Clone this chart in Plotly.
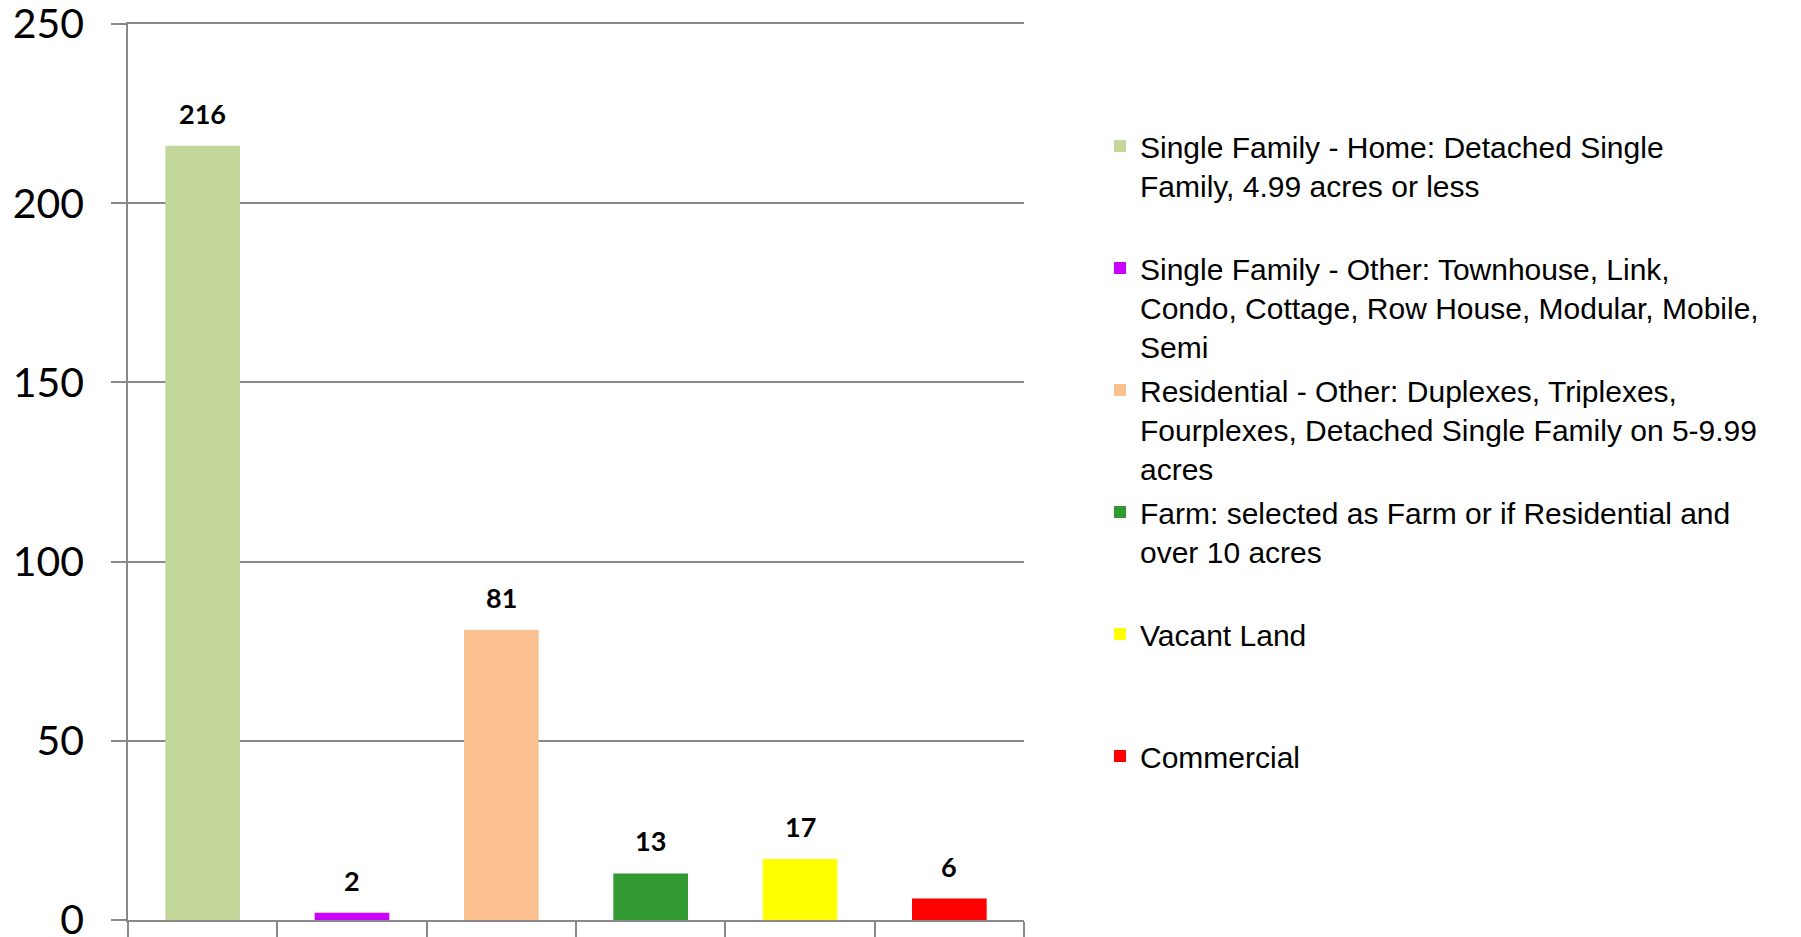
import plotly.graph_objects as go

categories = ["Single Family - Home", "Single Family - Other", "Residential - Other",
              "Farm", "Vacant Land", "Commercial"]
values = [216, 2, 81, 13, 17, 6]
legend_labels = [
    "Single Family - Home: Detached Single<br>Family, 4.99 acres or less<br>\u00a0",
    "Single Family - Other: Townhouse, Link,<br>Condo, Cottage, Row House, Modular, Mobile,<br>Semi",
    "Residential - Other: Duplexes, Triplexes,<br>Fourplexes, Detached Single Family on 5-9.99<br>acres",
    "Farm: selected as Farm or if Residential and<br>over 10 acres<br>\u00a0",
    "Vacant Land<br>\u00a0<br>\u00a0",
    "Commercial<br>\u00a0<br>\u00a0",
]
colors = ["#C4D79B", "#CC00FF", "#FAC090", "#339933", "#FFFF00", "#FF0000"]
y_ticks = [0, 50, 100, 150, 200, 250]

GRID = "#898989"

fig = go.Figure()
for cat, val, lab, col in zip(categories, values, legend_labels, colors):
    fig.add_trace(go.Bar(x=[cat], y=[val], name=lab, marker_color=col,
                         marker_line_width=0, width=0.5, legendgroup=cat))

annotations = [
    dict(x=cat, y=val, text=f"<b>{val}</b>", showarrow=False, yanchor="bottom",
         yshift=14, xref="x", yref="y",
         font=dict(family="Lato, Open Sans, sans-serif", size=27, color="black"))
    for cat, val in zip(categories, values)
]

fig.update_layout(
    width=1801, height=937, autosize=False,
    margin=dict(l=128, r=777, t=24, b=17, pad=0),
    paper_bgcolor="white", plot_bgcolor="white",
    barmode="overlay",
    annotations=annotations,
    showlegend=True,
    legend=dict(
        xref="container", yref="container",
        x=1100 / 1801, y=1 - 120 / 937, xanchor="left", yanchor="top",
        traceorder="grouped", tracegroupgap=2, valign="top",
        maxheight=900,
        font=dict(family="Liberation Sans, Arial, sans-serif", size=30, color="black"),
        bgcolor="rgba(0,0,0,0)", borderwidth=0,
    ),
    xaxis=dict(
        type="category", categoryorder="array", categoryarray=categories,
        showticklabels=False, ticks="outside", ticklen=15, tickcolor=GRID, tickwidth=1.5,
        tickson="boundaries", showline=True, mirror=True, linecolor=GRID, linewidth=1.5,
        showgrid=False, zeroline=False, automargin=False,
    ),
    yaxis=dict(
        range=[0, 250], tickvals=y_ticks, ticks="outside", ticklen=15, tickcolor=GRID,
        tickwidth=1.5, showline=True, linecolor=GRID, linewidth=1.5,
        showgrid=True, gridcolor=GRID, gridwidth=1.5, zeroline=False,
        tickfont=dict(family="Lato, Open Sans, sans-serif", size=41, color="black"),
        ticklabelstandoff=19, ticklabeloverflow="allow", automargin=False,
    ),
)

fig.write_html("out.html", config={"displayModeBar": False},
               post_script="document.body.style.margin='0px';")
